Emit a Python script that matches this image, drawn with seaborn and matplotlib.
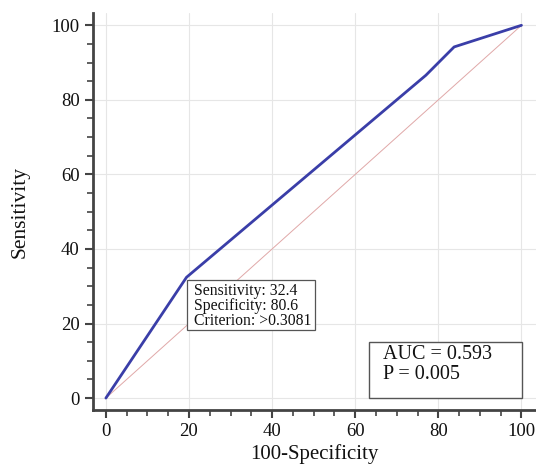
import matplotlib
matplotlib.use("Agg")
import matplotlib.pyplot as plt
import seaborn as sns
import pandas as pd
from matplotlib.ticker import MultipleLocator
from matplotlib.patches import Rectangle

sns.set_theme(style="white")
plt.rcParams['font.family'] = ['Liberation Serif', 'DejaVu Serif']

fpr = [0, 19.4, 77.0, 83.8, 100]
tpr = [0, 32.4, 86.6, 94.2, 100]
ref = [0, 100]
xticks = [0, 20, 40, 60, 80, 100]
yticks = [0, 20, 40, 60, 80, 100]
info_lines = ["Sensitivity: 32.4", "Specificity: 80.6", "Criterion: >0.3081"]
stat_lines = ["AUC = 0.593", "P = 0.005"]

df = pd.DataFrame({"x": fpr, "y": tpr})
dref = pd.DataFrame({"x": ref, "y": ref})

fig = plt.figure(figsize=(5.36, 4.66), dpi=100)
ax = fig.add_axes([93/536, 1-410/466, (536-93)/536, (410-13)/466])

ax.grid(True, color="#e6e6e6", linewidth=0.8)
ax.set_axisbelow(True)
sns.lineplot(data=dref, x="x", y="y", ax=ax, color="#e0a8a8", linewidth=0.7, estimator=None, sort=False)
sns.lineplot(data=df, x="x", y="y", ax=ax, color="#3a3ea8", linewidth=2.0, estimator=None, sort=False)

ax.set_xlim(-3.1, 103.5)
ax.set_ylim(-3.2, 103.3)
ax.set_xticks(xticks)
ax.set_yticks(yticks)
ax.xaxis.set_minor_locator(MultipleLocator(5))
ax.yaxis.set_minor_locator(MultipleLocator(5))
ax.tick_params(axis="both", which="major", direction="out", length=6, width=1.5,
               color="#444444", labelsize=13.5, labelcolor="#111111", bottom=True, left=True)
ax.tick_params(axis="both", which="minor", direction="out", length=4, width=1.2,
               color="#444444", bottom=True, left=True)
for s in ["top", "right"]:
    ax.spines[s].set_visible(False)
for s in ["left", "bottom"]:
    ax.spines[s].set_color("#444444")
    ax.spines[s].set_linewidth(2.0)

ax.set_xlabel("100-Specificity", fontsize=15, color="#111111", labelpad=3)
ax.set_ylabel("Sensitivity", fontsize=15.5, color="#111111", labelpad=16)

# criterion box
ax.add_patch(Rectangle((19.5, 18.2), 30.9, 13.4, facecolor="white", edgecolor="#555555",
                       linewidth=0.9, zorder=5))
for yv, line in zip([28.6, 24.6, 20.6], info_lines):
    ax.text(21.2, yv, line, fontsize=11.3, va="center", ha="left", color="#111111", zorder=6)

# AUC box
ax.add_patch(Rectangle((63.4, 0.0), 36.8, 15.0, facecolor="white", edgecolor="#555555",
                       linewidth=1.0, zorder=5))
for yv, line in zip([11.8, 6.2], stat_lines):
    ax.text(66.6, yv, line, fontsize=14.5, va="center", ha="left", color="#111111", zorder=6)

fig.savefig("out.png", dpi=100)
